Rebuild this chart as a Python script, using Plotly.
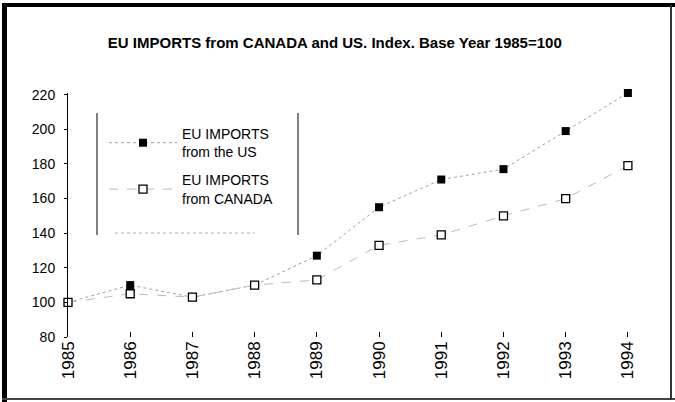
import plotly.graph_objects as go

years = [1985, 1986, 1987, 1988, 1989, 1990, 1991, 1992, 1993, 1994]
us = [100, 110, 103, 110, 127, 155, 171, 177, 199, 221]
canada = [100, 105, 103, 110, 113, 133, 139, 150, 160, 179]
y_ticks = [80, 100, 120, 140, 160, 180, 200, 220]
title = "EU IMPORTS from CANADA and US. Index. Base Year 1985=100"
us_name = "EU IMPORTS<br>from the US"
ca_name = "EU IMPORTS<br>from CANADA"

W, H = 675, 402
L, R, T, B = 68, 16, 93, 65
pw, ph = W - L - R, H - T - B

def px(x):
    return (x - L) / pw

def py(y):
    return (H - B - y) / ph

fig = go.Figure()
fig.add_trace(go.Scatter(
    x=years, y=us, name=us_name, mode="lines+markers",
    line=dict(color="#a0a0a0", width=1, dash="dot"),
    marker=dict(symbol="square", size=8, color="black"),
    legendgroup="us", cliponaxis=False,
))
fig.add_trace(go.Scatter(
    x=years, y=canada, name=ca_name, mode="lines+markers",
    line=dict(color="#bbbbbb", width=1, dash="dash"),
    marker=dict(symbol="square", size=8, color="white", line=dict(color="black", width=1.3)),
    legendgroup="ca", cliponaxis=False,
))

def rect(x0, y0, x1, y1, color):
    return dict(type="rect", xref="paper", yref="paper", layer="above",
                x0=px(x0), x1=px(x1), y0=py(y1), y1=py(y0),
                fillcolor=color, line=dict(width=0))

shapes = []
# legend frame
shapes.append(dict(type="line", xref="paper", yref="paper", x0=px(97), x1=px(97), y0=py(113), y1=py(235),
                   line=dict(color="black", width=1)))
shapes.append(dict(type="line", xref="paper", yref="paper", x0=px(298), x1=px(298), y0=py(113), y1=py(235),
                   line=dict(color="black", width=1)))
shapes.append(dict(type="line", xref="paper", yref="paper", x0=px(115), x1=px(255), y0=py(233), y1=py(233),
                   line=dict(color="#aaaaaa", width=1, dash="dot")))
# outer frame
shapes.append(rect(2, 3, 7, 402, "black"))       # left
shapes.append(rect(2, 3, 675, 7, "black"))       # top
shapes.append(rect(2, 398, 675, 400, "#444444"))  # bottom
shapes.append(rect(670, 5, 672, 400, "#333333"))  # right

fig.update_layout(
    width=W, height=H,
    margin=dict(l=L, r=R, t=T, b=B),
    paper_bgcolor="white", plot_bgcolor="white",
    font=dict(family="Liberation Sans, Arial, sans-serif", color="black"),
    title=dict(text="<b>" + title + "</b>", x=0.496, xref="container", xanchor="center",
               y=1 - 43 / H, yref="container", yanchor="middle",
               font=dict(size=15, color="black")),
    showlegend=True,
    legend=dict(x=px(104), y=py(118), xanchor="left", yanchor="top",
                bgcolor="rgba(0,0,0,0)", borderwidth=0,
                font=dict(size=14, color="black"), itemwidth=68,
                tracegroupgap=7, traceorder="grouped"),
    xaxis=dict(range=[1985, 1994.5], tickmode="array", tickvals=years,
               ticktext=[str(y) for y in years], tickangle=-90,
               showgrid=False, zeroline=False, showline=False,
               ticks="inside", ticklen=5, tickcolor="black", tickwidth=1,
               tickfont=dict(size=17, color="black")),
    yaxis=dict(range=[80, 221], tickmode="array", tickvals=y_ticks,
               showgrid=False, zeroline=False, showline=True, linecolor="black", linewidth=1,
               ticks="outside", ticklen=3, tickcolor="black",
               ticklabelstandoff=6,
               tickfont=dict(size=14, color="black")),
    shapes=shapes,
)

fig.write_html("out.html", config={"displayModeBar": False},
               post_script="document.body.style.margin='0';document.body.style.overflow='hidden';")
